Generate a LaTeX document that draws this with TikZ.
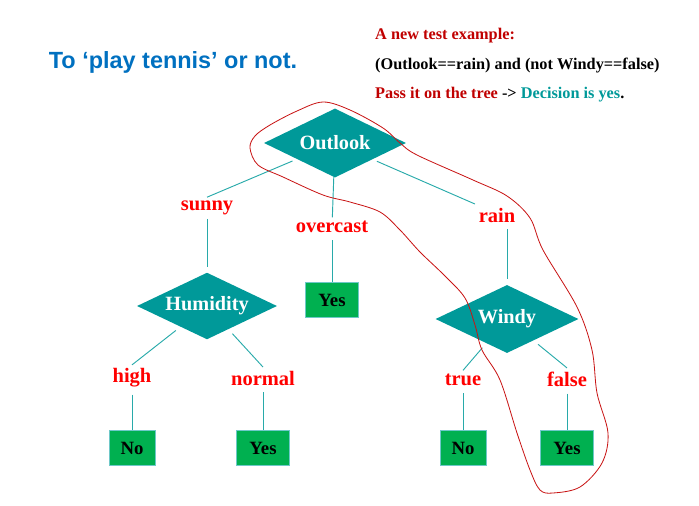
\documentclass[tikz,border=0pt]{standalone}
\usepackage{fontspec}
\setmainfont{Liberation Serif}
\newfontfamily\titlefont{Liberation Sans}
\usetikzlibrary{shapes.geometric, positioning}
\definecolor{treeteal}{RGB}{0,153,153}
\definecolor{edgeteal}{RGB}{40,170,170}
\definecolor{labelred}{RGB}{255,0,0}
\definecolor{leafgreen}{RGB}{0,176,80}
\definecolor{leafedge}{RGB}{110,200,200}
\definecolor{titleblue}{RGB}{0,112,192}
\definecolor{notered}{RGB}{192,0,0}
\definecolor{loopred}{RGB}{200,20,20}
\tikzset{
  attrnode/.style={diamond, aspect=2, fill=treeteal, text=white, inner sep=0pt,
                   minimum width=4.26cm, minimum height=2.07cm,
                   font=\fontsize{17.3}{20}\selectfont\bfseries},
  valnode/.style={text=labelred, inner sep=3pt,
                  font=\fontsize{17.5}{20}\selectfont\bfseries},
  leafnode/.style={rectangle, fill=leafgreen, draw=leafedge, line width=0.8pt,
                   minimum width=1.59cm, minimum height=1.05cm,
                   font=\fontsize{16}{19}\selectfont\bfseries},
  noteline/.style={anchor=west, inner sep=0pt, font=\fontsize{13.9}{16}\selectfont\bfseries},
  treeedge/.style={edgeteal, line width=0.8pt},
}

\begin{document}
\begin{tikzpicture}[x=0.03cm, y=-0.03cm]
  \useasboundingbox (0,0) rectangle (699,506);
  % title and note
  \node[text=titleblue, font=\titlefont\fontsize{20}{24}\selectfont\bfseries] (title) at (173,62)
    {To ‘play tennis’ or not.};
  \node[noteline, text=notered] (notehead) at (375,36) {A new test example:};
  \node[noteline] (notecond) at (375,66) {(Outlook==rain) and (not Windy==false)};
  \node[noteline] (notepass) at (375,95)
    {\textcolor{notered}{Pass it on the tree} -> \textcolor{treeteal}{Decision is yes}.};

  % tree
  \node[attrnode] (outlook) at (335,143) {Outlook};
  \node[valnode] (sunny) at (207,208) {sunny};
  \node[valnode] (overcast) at (332,227) {overcast};
  \node[valnode] (rain) at (497,215) {rain};
  \node[attrnode, minimum width=4.2cm, minimum height=2.0cm] (humidity) at (207,306) {Humidity};
  \node[leafnode] (yesA) at (332,300) {Yes};
  \node[attrnode, minimum width=4.29cm, minimum height=2.04cm] (windy) at (507,319) {Windy};
  \node[valnode] (high) at (132,378) {high};
  \node[valnode] (normal) at (263,378) {normal};
  \node[valnode] (truelbl) at (463,380) {true};
  \node[valnode] (falselbl) at (567,379) {false};
  \node[leafnode, minimum width=1.38cm] (noA) at (132,448) {No};
  \node[leafnode] (yesB) at (263,448) {Yes};
  \node[leafnode, minimum width=1.38cm] (noB) at (463,448) {No};
  \node[leafnode] (yesC) at (567,448) {Yes};

  \draw[treeedge, shorten <=4pt] (outlook) -- (sunny.north);
  \draw[treeedge] (outlook) -- (overcast);
  \draw[treeedge, shorten <=4pt] (outlook) -- (rain.north west);
  \draw[treeedge, shorten >=5pt] (sunny) -- (humidity);
  \draw[treeedge, shorten <=3pt] (overcast) -- (yesA);
  \draw[treeedge, shorten <=5pt, shorten >=3pt] (windy.north) -- (windy.north |- rain.south);
  \draw[treeedge, shorten <=5pt] (humidity) -- (high.north);
  \draw[treeedge, shorten <=5pt] (humidity) -- (normal.north);
  \draw[treeedge, shorten <=3pt] (high) -- (noA);
  \draw[treeedge, shorten <=3pt] (normal) -- (yesB);
  \draw[treeedge, shorten <=5pt] (windy) -- (truelbl.north);
  \draw[treeedge, shorten <=5pt] (windy) -- (falselbl.north);
  \draw[treeedge, shorten <=3pt] (truelbl) -- (noB);
  \draw[treeedge, shorten <=3pt] (falselbl) -- (yesC);

  % hand drawn loop
  \draw[loopred, line width=0.7pt] plot[smooth cycle, tension=0.55] coordinates {
    (323,102) (350,110) (383,128) (400,143) (417,155) (473,180) (507,196)
    (530,218) (543,250) (577,307) (592,350) (597,393) (608,433) (602,463)
    (580,487) (553,493) (540,490) (530,470) (517,433) (500,380) (482,350)
    (475,325) (465,298) (445,276) (420,252) (400,230) (380,212) (350,202)
    (323,195) (283,177) (258,165) (250,148) (255,136) (270,125) (297,111)};
\end{tikzpicture}
\end{document}
